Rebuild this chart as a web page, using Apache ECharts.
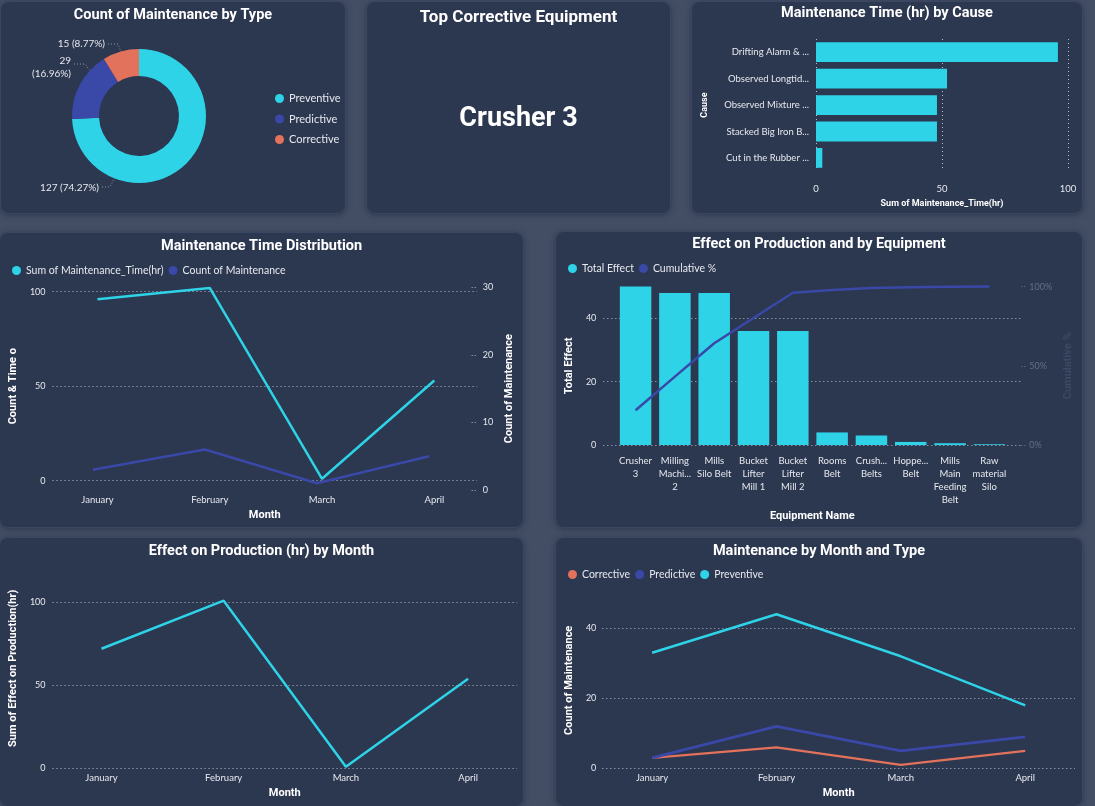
<!DOCTYPE html>
<html><head><meta charset="utf-8">
<script src="https://cdn.jsdelivr.net/npm/echarts@6/dist/echarts.min.js"></script>
<style>
html,body{margin:0;padding:0;width:1095px;height:806px;overflow:hidden;background:#434e65;}
.panel{position:absolute;background:#2c3750;border-radius:8px;box-shadow:0 0 0 1px #3b4762,0 1px 6px rgba(15,20,35,0.55);}
</style></head><body>
<div id="p1" class="panel" style="left:1px;top:2px;width:344px;height:211px"></div>
<div id="p2" class="panel" style="left:367px;top:2px;width:303px;height:211px"></div>
<div id="p3" class="panel" style="left:692px;top:2px;width:390px;height:211px"></div>
<div id="p4" class="panel" style="left:0px;top:233px;width:523px;height:294px"></div>
<div id="p5" class="panel" style="left:556px;top:232px;width:526px;height:295px"></div>
<div id="p6" class="panel" style="left:0px;top:538px;width:523px;height:268px"></div>
<div id="p7" class="panel" style="left:556px;top:538px;width:526px;height:268px"></div>
<script>
// ---------- DATA ----------
const maintenanceTypes = ['Preventive', 'Predictive', 'Corrective'];
const maintenanceTypeCounts = [127, 29, 15];
const topCorrectiveEquipment = 'Crusher 3';
const causes = ['Drifting Alarm & ...', 'Observed Longtid...', 'Observed Mixture ...', 'Stacked Big Iron B...', 'Cut in the Rubber ...'];
const causeTime = [96, 52, 48, 48, 2.5];
const months = ['January', 'February', 'March', 'April'];
const monthMaintTime = [96, 102, 1, 53];
const monthMaintCount = [3, 6, 1, 5];
const equipment = ['Crusher\n3', 'Milling\nMachi...\n2', 'Mills\nSilo Belt', 'Bucket\nLifter\nMill 1', 'Bucket\nLifter\nMill 2', 'Rooms\nBelt', 'Crush...\nBelts', 'Hoppe...\nBelt', 'Mills\nMain\nFeeding\nBelt', 'Raw\nmaterial\nSilo'];
const equipmentEffect = [50, 48, 48, 36, 36, 4, 3, 1, 0.6, 0.3];
const equipmentCumPct = [22, 43.2, 64.3, 80.2, 96.1, 97.8, 99.1, 99.6, 99.9, 100];
const monthEffect = [72, 101, 1, 54];
const monthCorrective = [3, 6, 1, 5];
const monthPredictive = [3, 12, 5, 9];
const monthPreventive = [33, 44, 32, 18];

// ---------- STYLE ----------
const C_CYAN = '#2ed3e8', C_BLUE = '#3a48a8', C_ORANGE = '#e2725b';
const TXT = '#e6e9ee';
const FT = 'Roboto', FB = 'Lato';
const titleStyle = {color: '#ffffff', fontFamily: FT, fontWeight: 'bold', fontSize: 14.5};
const gridLine = {show: true, lineStyle: {color: '#b7bdc8', type: [1, 3], width: 1}};
const noLine = {show: false};
const noAxisLine = {show: false, onZero: false};
const lbl = (extra) => Object.assign({color: TXT, fontFamily: FB, fontSize: 9.5}, extra || {});
const nameStyle = (extra) => Object.assign({color: '#ffffff', fontFamily: FT, fontWeight: 'bold', fontSize: 11}, extra || {});
const legendStyle = {color: TXT, fontFamily: FB, fontSize: 10.5};
const idx = (arr) => arr.map((v, i) => i);
const pts = (arr) => arr.map((v, i) => [i, v]);

function mk(id, opt) {
  const c = echarts.init(document.getElementById(id));
  c.setOption(opt);
}

// ---------- P1 donut ----------
mk('p1', {
  animation: false,
  title: {text: 'Count of Maintenance by Type', left: 'center', top: 6, padding: 0, textStyle: titleStyle},
  legend: {orient: 'vertical', left: 269, top: 86, itemGap: 9.5, icon: 'circle', itemWidth: 9, itemHeight: 9,
    textStyle: {color: TXT, fontFamily: FB, fontSize: 11}, data: maintenanceTypes},
  color: [C_CYAN, C_BLUE, C_ORANGE],
  series: [{
    type: 'pie', center: [138, 114], radius: [40, 67], startAngle: 90, clockwise: true,
    data: maintenanceTypes.map((n, i) => ({name: n, value: maintenanceTypeCounts[i]})),
    label: {show: true, position: 'outside', color: TXT, fontFamily: FB, fontSize: 10, lineHeight: 13,
      overflow: 'none', width: 120, align: 'right',
      formatter: p => p.name === 'Predictive' ? p.value + '\n(' + p.percent.toFixed(2) + '%)' : p.value + ' (' + p.percent.toFixed(2) + '%)'},
    labelLine: {show: true, lineStyle: {color: '#8d96a6', type: [1, 2], width: 1}},
    labelLayout: function (p) {
      const L = [
        {x: 98, y: 186, pl: [[101, 185], [109, 185], [113, 177]]},
        {x: 70, y: 65, pl: [[73, 62], [84, 62], [90, 70]]},
        {x: 104, y: 42, pl: [[107, 42], [117, 42], [120, 50]]}
      ][p.dataIndex];
      return {x: L.x, y: L.y, align: 'right', verticalAlign: 'middle', labelLinePoints: L.pl};
    },
    emphasis: {disabled: true}
  }]
});

// ---------- P2 card ----------
mk('p2', {
  animation: false,
  title: {text: 'Top Corrective Equipment', left: 'center', top: 7, padding: 0,
    textStyle: {color: '#ffffff', fontFamily: FT, fontWeight: 'bold', fontSize: 17}},
  graphic: [{type: 'text', left: 'center', top: 104,
    style: {text: topCorrectiveEquipment, fill: '#ffffff', font: 'bold 27px Roboto'}}]
});

// ---------- P3 horizontal bars ----------
mk('p3', {
  animation: false,
  title: {text: 'Maintenance Time (hr) by Cause', left: 'center', top: 4, padding: 0, textStyle: titleStyle},
  grid: {left: 123, width: 253, top: 37, height: 133},
  xAxis: {type: 'value', min: 0, max: 100, interval: 50, axisLine: noAxisLine, axisTick: noLine, splitLine: gridLine,
    axisLabel: lbl({margin: 13}),
    name: 'Sum of Maintenance_Time(hr)', nameLocation: 'middle', nameGap: 25, nameTextStyle: nameStyle({fontSize: 9})},
  yAxis: {type: 'category', inverse: true, data: causes, axisLine: noAxisLine, axisTick: noLine,
    axisLabel: lbl({margin: 7, fontSize: 9.5}),
    name: 'Cause', nameLocation: 'middle', nameGap: 107, nameTextStyle: nameStyle({fontSize: 9})},
  series: [{type: 'bar', data: causeTime, barCategoryGap: '25%', itemStyle: {color: C_CYAN}}]
});

// ---------- P4 dual axis lines ----------
mk('p4', {
  animation: false,
  title: {text: 'Maintenance Time Distribution', left: 'center', top: 6, padding: 0, textStyle: titleStyle},
  legend: {left: 7, top: 27, itemGap: 5, icon: 'circle', itemWidth: 9, itemHeight: 9, textStyle: legendStyle,
    data: ['Sum of Maintenance_Time(hr)', 'Count of Maintenance']},
  grid: [{left: 48, width: 429, top: 58.7, height: 189}, {left: 48, width: 429, top: 54.3, height: 202.7}],
  xAxis: [
    {gridIndex: 0, type: 'value', min: -0.4, max: 3.38, axisLine: noAxisLine, axisTick: noLine, splitLine: noLine,
      axisLabel: lbl({margin: 14, customValues: idx(months), formatter: v => months[v] || ''}),
      name: 'Month', nameLocation: 'middle', nameGap: 28, nameTextStyle: nameStyle()},
    {gridIndex: 1, type: 'value', min: -0.4, max: 3.38, show: false, axisLine: noAxisLine}
  ],
  yAxis: [
    {gridIndex: 0, type: 'value', min: 0, max: 100, interval: 50, axisLine: noAxisLine, axisTick: noLine, splitLine: gridLine,
      axisLabel: lbl({margin: 7, fontSize: 9}),
      name: 'Count & Time o', nameLocation: 'middle', nameGap: 28, nameTextStyle: nameStyle()},
    {gridIndex: 1, type: 'value', position: 'right', min: 0, max: 30, interval: 10, axisLine: noAxisLine, splitLine: noLine,
      axisTick: {show: true, length: 4, lineStyle: {color: '#b7bdc8', type: [1, 2]}},
      axisLabel: lbl({margin: 11, fontSize: 9}),
      name: 'Count of Maintenance', nameLocation: 'middle', nameGap: 28, nameTextStyle: nameStyle()}
  ],
  series: [
    {name: 'Sum of Maintenance_Time(hr)', type: 'line', xAxisIndex: 0, yAxisIndex: 0, data: pts(monthMaintTime),
      symbol: 'none', clip: false, lineStyle: {width: 2.5, color: C_CYAN}, itemStyle: {color: C_CYAN}},
    {name: 'Count of Maintenance', type: 'line', xAxisIndex: 1, yAxisIndex: 1, data: pts(monthMaintCount),
      symbol: 'none', clip: false, lineStyle: {width: 2.5, color: C_BLUE}, itemStyle: {color: C_BLUE}}
  ]
});

// ---------- P5 pareto ----------
mk('p5', {
  animation: false,
  title: {text: 'Effect on Production and by Equipment', left: 'center', top: 5, padding: 0, textStyle: titleStyle},
  legend: {left: 7, top: 26, itemGap: 5, icon: 'circle', itemWidth: 9, itemHeight: 9, textStyle: legendStyle,
    data: ['Total Effect', 'Cumulative %']},
  grid: {left: 41, width: 429, top: 54.6, height: 160.7},
  xAxis: {type: 'value', min: -0.82, max: 9.81, axisLine: noAxisLine, axisTick: noLine, splitLine: noLine,
    axisLabel: lbl({margin: 9, lineHeight: 13, align: 'center', customValues: idx(equipment), formatter: v => equipment[v] || ''}),
    name: 'Equipment Name', nameLocation: 'middle', nameGap: 60, nameTextStyle: nameStyle()},
  yAxis: [
    {type: 'value', min: 0, max: 50, interval: 20, axisLine: noAxisLine, axisTick: noLine,
      splitLine: Object.assign({showMaxLine: false}, gridLine),
      axisLabel: lbl({margin: 7, fontSize: 9, showMaxLabel: false}),
      name: 'Total Effect', nameLocation: 'middle', nameGap: 22, nameTextStyle: nameStyle()},
    {type: 'value', position: 'right', min: 0, max: 100, interval: 50, axisLine: noAxisLine, splitLine: noLine,
      axisTick: {show: true, length: 4, lineStyle: {color: '#6a7590', type: [1, 2]}},
      axisLabel: lbl({margin: 8, fontSize: 9, color: '#63708a', formatter: '{value}%'}),
      name: 'Cumulative %', nameLocation: 'middle', nameGap: 37, nameTextStyle: nameStyle({color: '#3d4964'})}
  ],
  series: [
    {name: 'Total Effect', type: 'bar', yAxisIndex: 0, data: pts(equipmentEffect), barWidth: 31.5,
      itemStyle: {color: C_CYAN}},
    {name: 'Cumulative %', type: 'line', yAxisIndex: 1, data: pts(equipmentCumPct), symbol: 'none', clip: false,
      lineStyle: {width: 2.5, color: C_BLUE}, itemStyle: {color: C_BLUE}}
  ]
});

// ---------- P6 effect by month ----------
mk('p6', {
  animation: false,
  title: {text: 'Effect on Production (hr) by Month', left: 'center', top: 6, padding: 0, textStyle: titleStyle},
  grid: {left: 48, width: 469, top: 64.3, height: 166},
  xAxis: {type: 'value', min: -0.4, max: 3.4, axisLine: noAxisLine, axisTick: noLine, splitLine: noLine,
    axisLabel: lbl({margin: 5, customValues: idx(months), formatter: v => months[v] || ''}),
    name: 'Month', nameLocation: 'middle', nameGap: 18, nameTextStyle: nameStyle()},
  yAxis: {type: 'value', min: 0, max: 100, interval: 50, axisLine: noAxisLine, axisTick: noLine, splitLine: gridLine,
    axisLabel: lbl({margin: 7, fontSize: 9}),
    name: 'Sum of Effect on Production(hr)', nameLocation: 'middle', nameGap: 28,
    nameTextStyle: nameStyle({padding: [0, 0, 0, 34]})},
  series: [{type: 'line', data: pts(monthEffect), symbol: 'none', clip: false,
    lineStyle: {width: 2.5, color: C_CYAN}, itemStyle: {color: C_CYAN}}]
});

// ---------- P7 maintenance by month & type ----------
mk('p7', {
  animation: false,
  title: {text: 'Maintenance by Month and Type', left: 'center', top: 6, padding: 0, textStyle: titleStyle},
  legend: {left: 7, top: 26, itemGap: 5, icon: 'circle', itemWidth: 9, itemHeight: 9, textStyle: legendStyle,
    data: ['Corrective', 'Predictive', 'Preventive']},
  grid: {left: 40.3, width: 478.7, top: 90.3, height: 140},
  xAxis: {type: 'value', min: -0.4, max: 3.4, axisLine: noAxisLine, axisTick: noLine, splitLine: noLine,
    axisLabel: lbl({margin: 5, customValues: idx(months), formatter: v => months[v] || ''}),
    name: 'Month', nameLocation: 'middle', nameGap: 19, nameTextStyle: nameStyle()},
  yAxis: {type: 'value', min: 0, max: 40, interval: 20, axisLine: noAxisLine, axisTick: noLine, splitLine: gridLine,
    axisLabel: lbl({margin: 6, fontSize: 9}),
    name: 'Count of Maintenance', nameLocation: 'middle', nameGap: 22,
    nameTextStyle: nameStyle({padding: [0, 0, 0, 36]})},
  series: [
    {name: 'Corrective', type: 'line', data: pts(monthCorrective), symbol: 'none', clip: false,
      lineStyle: {width: 2.2, color: C_ORANGE}, itemStyle: {color: C_ORANGE}},
    {name: 'Predictive', type: 'line', data: pts(monthPredictive), symbol: 'none', clip: false,
      lineStyle: {width: 2.8, color: C_BLUE}, itemStyle: {color: C_BLUE}},
    {name: 'Preventive', type: 'line', data: pts(monthPreventive), symbol: 'none', clip: false,
      lineStyle: {width: 2.5, color: C_CYAN}, itemStyle: {color: C_CYAN}}
  ]
});
</script>
</body></html>
